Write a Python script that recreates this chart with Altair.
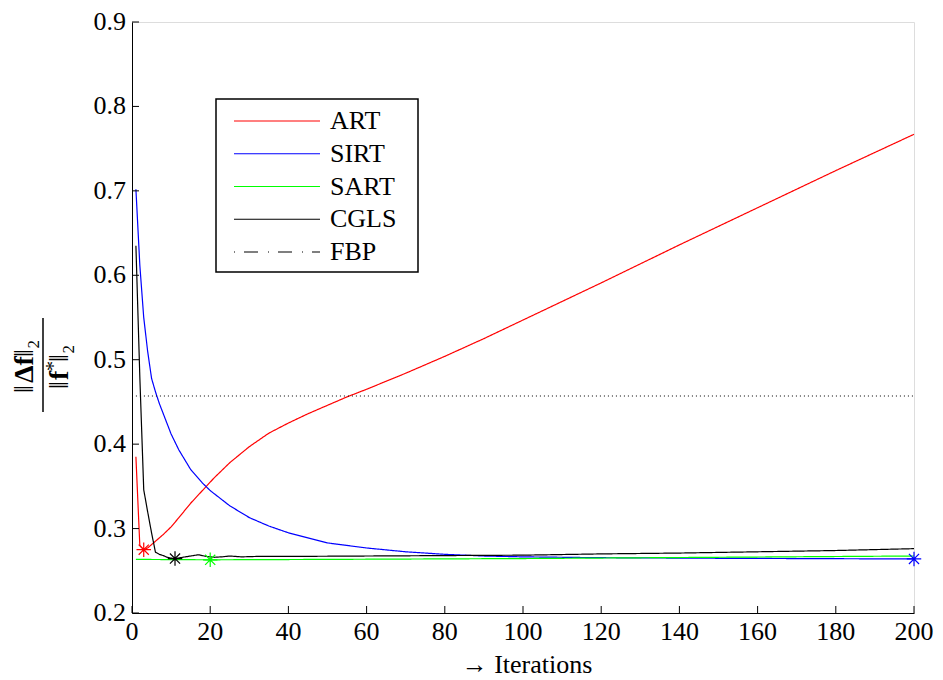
import altair as alt
import pandas as pd

FONT = "Liberation Serif"
FS = 26

methods = ["ART", "SIRT", "SART", "CGLS", "FBP"]
colors = ["#ff0000", "#0000ff", "#00ff00", "#000000", "#000000"]

art_x = [1, 2, 3, 4, 5, 6, 8, 10, 12, 15, 18, 21, 25, 30, 35, 40, 45, 50, 55, 60, 70, 80, 90, 100, 120, 140, 160, 180, 200]
art_y = [0.385, 0.280, 0.275, 0.277, 0.281, 0.285, 0.293, 0.302, 0.313, 0.330, 0.345, 0.360, 0.378, 0.397, 0.413, 0.425,
         0.436, 0.446, 0.456, 0.465, 0.484, 0.504, 0.525, 0.547, 0.591, 0.636, 0.680, 0.724, 0.767]

sirt_x = [1, 2, 3, 4, 5, 6, 7, 8, 10, 12, 15, 18, 20, 25, 30, 35, 40, 50, 60, 70, 80, 90, 100, 120, 150, 200]
sirt_y = [0.702, 0.612, 0.550, 0.510, 0.478, 0.462, 0.448, 0.436, 0.412, 0.393, 0.370, 0.354, 0.345, 0.327, 0.313, 0.303,
          0.295, 0.283, 0.277, 0.2725, 0.2695, 0.2675, 0.2665, 0.2655, 0.2648, 0.264]

sart_x = [1, 20, 50, 100, 150, 200]
sart_y = [0.2635, 0.263, 0.2635, 0.2645, 0.266, 0.2675]

cgls_x = [1, 2, 3, 4, 5, 6, 7, 8, 9, 10, 11, 13, 15, 17, 19, 21, 23, 25, 28, 32, 40, 60, 80, 100, 120, 140, 160, 180, 200]
cgls_y = [0.635, 0.480, 0.346, 0.320, 0.295, 0.272, 0.2695, 0.268, 0.266, 0.265, 0.2645, 0.266, 0.2675, 0.269, 0.267,
          0.266, 0.2665, 0.2675, 0.2665, 0.267, 0.267, 0.2675, 0.268, 0.2685, 0.270, 0.271, 0.2725, 0.274, 0.2762]

fbp_x = [1, 200]
fbp_y = [0.457, 0.457]

marker_method = ["ART", "SIRT", "SART", "CGLS"]
marker_x = [3, 200, 20, 11]
marker_y = [0.275, 0.264, 0.263, 0.2645]

x_ticks = list(range(0, 201, 20))
y_ticks = [0.2, 0.3, 0.4, 0.5, 0.6, 0.7, 0.8, 0.9]
x_tick_labels = [str(v) for v in x_ticks]
y_tick_labels = ["0.2", "0.3", "0.4", "0.5", "0.6", "0.7", "0.8", "0.9"]

W, H = 782, 591
TOP = 14  # plot top offset inside the svg

rows = []
for name, xs, ys in [("ART", art_x, art_y), ("SIRT", sirt_x, sirt_y), ("SART", sart_x, sart_y),
                     ("CGLS", cgls_x, cgls_y), ("FBP", fbp_x, fbp_y)]:
    for xv, yv in zip(xs, ys):
        rows.append({"method": name, "it": xv, "err": yv})
lines_df = pd.DataFrame(rows)

cmap = dict(zip(methods, colors))
markers_df = pd.DataFrame({"method": marker_method, "it": marker_x, "err": marker_y,
                           "col": [cmap[m] for m in marker_method]})

xscale = alt.Scale(domain=[0, 200], nice=False)
yscale = alt.Scale(domain=[0.2, 0.9], nice=False)

lines = alt.Chart(lines_df).mark_line(strokeWidth=1.2).encode(
    x=alt.X("it:Q", scale=xscale,
            axis=alt.Axis(values=x_ticks, labels=False, ticks=False, grid=False, title=None,
                          domainColor="black", domainWidth=1)),
    y=alt.Y("err:Q", scale=yscale,
            axis=alt.Axis(values=y_ticks, labels=False, ticks=False, grid=False, title=None,
                          domainColor="black", domainWidth=1)),
    color=alt.Color("method:N", scale=alt.Scale(domain=methods, range=colors), legend=None),
    strokeDash=alt.StrokeDash("method:N", scale=alt.Scale(domain=methods,
                              range=[[1, 0], [1, 0], [1, 0], [1, 0], [1, 3]]), legend=None),
    order="it:Q",
)

asterisk = "M-1,0L1,0M0,-1L0,1M-0.7,-0.7L0.7,0.7M-0.7,0.7L0.7,-0.7"
marks = alt.Chart(markers_df).mark_point(shape=asterisk, filled=False, size=210, strokeWidth=1.2, opacity=1).encode(
    x=alt.X("it:Q", scale=xscale),
    y=alt.Y("err:Q", scale=yscale),
    stroke=alt.Stroke("col:N", scale=None),
)

ytick_df = pd.DataFrame({"v": y_ticks, "lab": y_tick_labels})
xtick_df = pd.DataFrame({"v": x_ticks, "lab": x_tick_labels})
yt = alt.Chart(ytick_df).mark_rule(color="black", strokeWidth=1).encode(
    y=alt.Y("v:Q", scale=yscale), x=alt.value(0), x2=alt.value(7))
xt = alt.Chart(xtick_df).mark_rule(color="black", strokeWidth=1).encode(
    x=alt.X("v:Q", scale=xscale), y=alt.value(H), y2=alt.value(H - 7))
ylab = alt.Chart(ytick_df).mark_text(font=FONT, fontSize=FS, color="black", align="right",
                                     baseline="middle").encode(
    y=alt.Y("v:Q", scale=yscale), x=alt.value(-6), text="lab:N")
xlab = alt.Chart(xtick_df).mark_text(font=FONT, fontSize=FS, color="black", align="center",
                                     baseline="middle").encode(
    x=alt.X("v:Q", scale=xscale), y=alt.value(H + 19), text="lab:N")
xtitle = alt.Chart(pd.DataFrame({"t": ["→ Iterations"]})).mark_text(
    font=FONT, fontSize=FS, color="black", align="center", baseline="middle").encode(
    text="t:N", x=alt.value(W / 2 + 4), y=alt.value(H + 52))

# y-axis title as a fraction  ||Δf||_2 / ||f*||_2
FF = 28
def piece(t, xpos, ypos, bold=False, size=FF):
    return alt.Chart(pd.DataFrame({"t": [t]})).mark_text(
        font=FONT, fontSize=size, fontWeight="bold" if bold else "normal", angle=270,
        color="black", align="left", baseline="middle").encode(
        text="t:N", x=alt.value(xpos), y=alt.value(ypos))

NX, DX, CY = -107, -72, 343
num_layers = [piece("‖", NX, CY + 28), piece("Δf", NX, CY + 18, bold=True), piece("‖₂", NX, CY - 8)]
den_layers = [piece("‖", DX, CY + 24), piece("f", DX, CY + 15, bold=True),
              piece("*", DX - 6, CY + 6, size=20), piece("‖₂", DX, CY - 3)]
bar = alt.Chart(pd.DataFrame({"a": [0]})).mark_rule(color="black", strokeWidth=1.5).encode(
    x=alt.value(-89), y=alt.value(296), y2=alt.value(390))

# legend box
box = alt.Chart(pd.DataFrame({"a": [0]})).mark_rect(fill="white", stroke="black", strokeWidth=1.5).encode(
    x=alt.value(84), x2=alt.value(286), y=alt.value(77), y2=alt.value(250))
legend_layers = [box]
dashes = [[1, 0], [1, 0], [1, 0], [1, 0], [1, 9, 14, 10]]
for i, (m, c, d) in enumerate(zip(methods, colors, dashes)):
    ry = 99 + 32.75 * i
    legend_layers.append(
        alt.Chart(pd.DataFrame({"a": [0]})).mark_rule(color=c, strokeWidth=1.2, strokeDash=d).encode(
            x=alt.value(102), x2=alt.value(188), y=alt.value(ry)))
    legend_layers.append(
        alt.Chart(pd.DataFrame({"t": [m]})).mark_text(font=FONT, fontSize=FS, color="black",
                                                       align="left", baseline="middle").encode(
            text="t:N", x=alt.value(198), y=alt.value(ry)))

chart = alt.layer(lines, marks, yt, xt, ylab, xlab, xtitle, *num_layers, *den_layers, bar,
                  *legend_layers).properties(
    width=W, height=H, autosize="none",
    padding={"left": 124, "top": TOP, "right": 21, "bottom": 66},
).configure_view(stroke=None).configure(font=FONT)

chart.save("out.html", embed_options={"renderer": "svg", "actions": False})
